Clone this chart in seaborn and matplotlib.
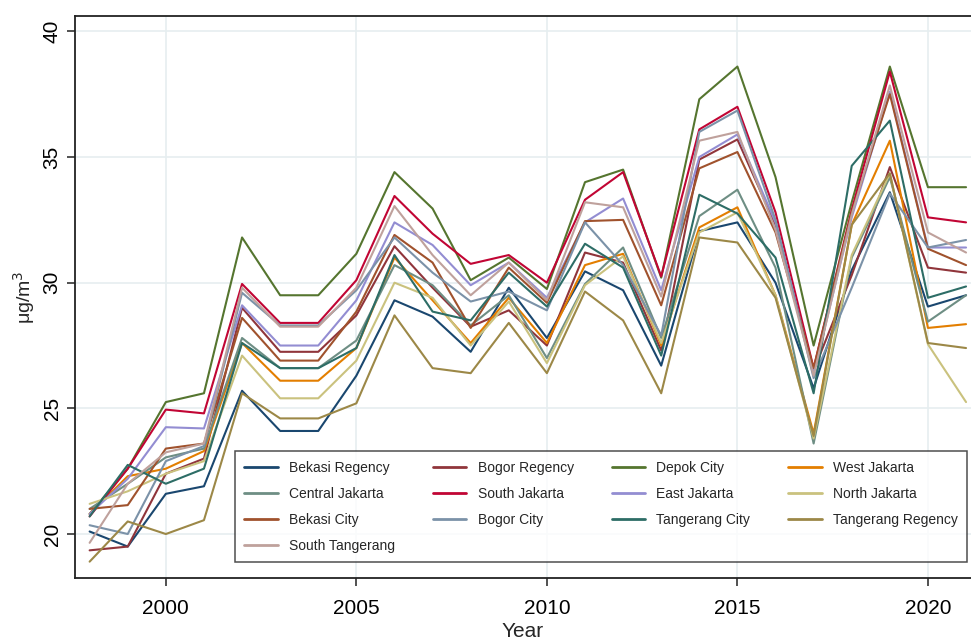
import matplotlib
matplotlib.use('Agg')
import matplotlib.pyplot as plt
import seaborn as sns
import pandas as pd

# 연도
years = list(range(1998, 2022))

# 지역별 연평균 농도 (μg/m³)
bekasi_regency = [20.1, 19.5, 21.6, 21.9, 25.7, 24.1, 24.1, 26.3, 29.3, 28.65, 27.25, 29.8,
                  27.8, 30.45, 29.7, 26.7, 32.05, 32.4, 30.0, 25.8, 30.5, 33.6, 29.05, 29.5]
bogor_regency = [19.35, 19.5, 22.4, 23.0, 29.0, 27.25, 27.25, 28.7, 31.45, 29.8, 28.25, 28.9,
                 27.5, 31.2, 30.8, 27.3, 34.9, 35.7, 32.3, 26.5, 30.3, 34.6, 30.6, 30.4]
depok_city = [20.8, 22.6, 25.25, 25.6, 31.8, 29.5, 29.5, 31.15, 34.4, 32.95, 30.1, 31.0,
              29.75, 34.0, 34.5, 30.2, 37.3, 38.6, 34.2, 27.5, 33.2, 38.6, 33.8, 33.8]
west_jakarta = [20.8, 22.3, 22.6, 23.3, 27.6, 26.1, 26.1, 27.4, 31.0, 29.3, 27.6, 29.4,
                27.6, 30.7, 31.15, 27.5, 32.2, 33.0, 29.5, 24.0, 32.3, 35.65, 28.2, 28.35]
central_jakarta = [21.0, 22.0, 23.05, 23.4, 27.8, 26.6, 26.6, 27.7, 30.7, 29.9, 28.3, 29.5,
                   27.0, 29.95, 31.4, 27.8, 32.65, 33.7, 30.6, 23.6, 31.0, 34.2, 28.45, 29.5]
south_jakarta = [20.7, 22.6, 24.95, 24.8, 29.95, 28.4, 28.4, 30.1, 33.45, 31.95, 30.75, 31.1,
                 30.0, 33.3, 34.4, 30.25, 36.1, 37.0, 32.8, 26.6, 32.9, 38.4, 32.6, 32.4]
east_jakarta = [20.8, 22.2, 24.25, 24.2, 29.1, 27.5, 27.5, 29.3, 32.4, 31.5, 29.9, 30.8,
                29.4, 32.4, 33.35, 29.7, 35.0, 35.9, 32.4, 26.4, 32.6, 37.6, 31.4, 31.4]
north_jakarta = [21.2, 21.7, 22.4, 22.9, 27.1, 25.4, 25.4, 26.9, 30.0, 29.4, 27.5, 29.25,
                 26.8, 29.9, 31.05, 27.6, 32.0, 32.8, 29.5, 23.8, 31.1, 34.35, 27.55, 25.25]
bekasi_city = [21.0, 21.15, 23.4, 23.6, 28.6, 26.9, 26.9, 28.85, 31.9, 30.8, 28.2, 30.6,
               29.2, 32.45, 32.5, 29.1, 34.55, 35.2, 32.0, 26.6, 32.8, 37.5, 31.35, 30.7]
bogor_city = [20.35, 20.0, 22.9, 23.5, 29.6, 28.3, 28.3, 29.7, 31.8, 30.4, 29.25, 29.65,
              28.9, 32.4, 30.7, 27.9, 36.0, 36.85, 32.5, 26.2, 29.8, 33.55, 31.4, 31.7]
tangerang_city = [20.7, 22.75, 22.0, 22.6, 27.6, 26.6, 26.6, 27.4, 31.1, 28.85, 28.5, 30.4,
                  29.05, 31.55, 30.6, 27.1, 33.5, 32.75, 31.0, 25.6, 34.65, 36.45, 29.4, 29.85]
tangerang_regency = [18.9, 20.5, 20.0, 20.55, 25.6, 24.6, 24.6, 25.2, 28.7, 26.6, 26.4, 28.4,
                     26.4, 29.65, 28.5, 25.6, 31.8, 31.6, 29.4, 23.9, 32.3, 34.35, 27.6, 27.4]
south_tangerang = [19.65, 22.0, 23.25, 23.6, 29.8, 28.25, 28.25, 29.8, 33.05, 31.1, 29.5, 30.8,
                   29.3, 33.2, 33.0, 29.45, 35.65, 36.0, 32.1, 26.3, 32.7, 37.85, 32.0, 31.2]

regions = ['Bekasi Regency', 'Bogor Regency', 'Depok City', 'West Jakarta',
           'Central Jakarta', 'South Jakarta', 'East Jakarta', 'North Jakarta',
           'Bekasi City', 'Bogor City', 'Tangerang City', 'Tangerang Regency',
           'South Tangerang']
series = [bekasi_regency, bogor_regency, depok_city, west_jakarta,
          central_jakarta, south_jakarta, east_jakarta, north_jakarta,
          bekasi_city, bogor_city, tangerang_city, tangerang_regency,
          south_tangerang]

# stata s2color 순서
colors = ['#1a476f', '#90353b', '#55752f', '#e37e00', '#6e8e84', '#c10534', '#938dd2',
          '#cac27e', '#a0522d', '#7b92a8', '#2d6d66', '#9c8847', '#bfa19c']

rows = []
for name, vals in zip(regions, series):
    for y, v in zip(years, vals):
        rows.append({'Year': y, 'value': v, 'Region': name})
df = pd.DataFrame(rows)

sns.set_style('white')
plt.rcParams['font.family'] = ['Liberation Sans', 'DejaVu Sans']

fig = plt.figure(figsize=(9.71, 6.42), dpi=100)
ax = fig.add_axes([0.077, 0.0997, 0.923, 0.8753])

sns.lineplot(data=df, x='Year', y='value', hue='Region', hue_order=regions,
             palette=dict(zip(regions, colors)), linewidth=1.5, ax=ax)

ax.set_xlim(1997.61, 2021.13)
ax.set_ylim(18.25, 40.61)
ax.set_xticks([2000, 2005, 2010, 2015, 2020])
ax.set_yticks([20, 25, 30, 35, 40])
ax.grid(True, color='#e6eef0', linewidth=1.2)
ax.set_axisbelow(True)

for s in ['left', 'bottom', 'top']:
    ax.spines[s].set_color('#222222')
    ax.spines[s].set_linewidth(1.3)
ax.spines['right'].set_visible(False)

ax.tick_params(axis='both', direction='out', length=6, width=1.1, colors='#222222',
               labelsize=15, labelcolor='black')
ax.tick_params(axis='x', pad=9)
ax.tick_params(axis='both', bottom=True, left=True)
for lab in ax.get_yticklabels():
    lab.set_rotation(90)
    lab.set_va('center')

ax.set_xlabel('Year', fontsize=15, labelpad=3)
ax.set_ylabel('μg/m$^3$', fontsize=14, labelpad=4)

# 범례: 4열, 행 우선 순서
h, l = ax.get_legend_handles_labels()
idx = [0, 4, 8, 12, 1, 5, 9, 2, 6, 10, 3, 7, 11]
leg = ax.legend([h[i] for i in idx], [l[i] for i in idx], ncol=4, loc='lower right',
                bbox_to_anchor=(0.996, 0.028),
                fontsize=10, handlelength=2.4, labelspacing=0.85, columnspacing=2.75,
                fancybox=False, frameon=True, borderaxespad=0, borderpad=0.7)
leg.get_frame().set_edgecolor('#222222')
leg.get_frame().set_linewidth(1.1)
for line in leg.get_lines():
    line.set_linewidth(2)

fig.savefig('out.png', dpi=100)
